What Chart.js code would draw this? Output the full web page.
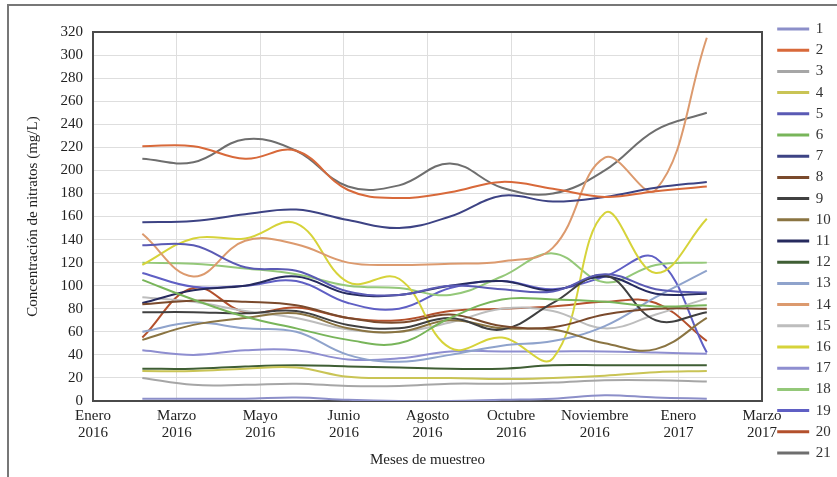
<!DOCTYPE html>
<html>
<head>
<meta charset="utf-8">
<script src="https://cdn.jsdelivr.net/npm/chart.js@4"></script>
<style>
  body { margin: 0; background: #fff; }
  canvas { display: block; }
</style>
</head>
<body>
<canvas id="myChart" width="837" height="477"></canvas>
<script>
// Etiquetas del eje X (dos lineas: mes / año)
const xTickLabels = [
  ['Enero', '2016'], ['Marzo', '2016'], ['Mayo', '2016'], ['Junio', '2016'],
  ['Agosto', '2016'], ['Octubre', '2016'], ['Noviembre', '2016'],
  ['Enero', '2017'], ['Marzo', '2017']
];

// Posicion de cada muestreo sobre el eje de meses (12 muestreos)
const sampleTimes = [0.59, 1.20, 1.82, 2.43, 3.05, 3.66, 4.27, 4.89, 5.50, 6.12, 6.73, 7.34];

// Nombres de las series (puntos de muestreo)
const seriesNames = ['1','2','3','4','5','6','7','8','9','10','11','12','13','14','15','16','17','18','19','20','21'];

// Concentracion de nitratos (mg/L) por punto
const s1  = [2, 2, 2, 3, 1, 0, 0, 1, 2, 5, 3, 2];
const s2  = [221, 221, 210, 217, 183, 176, 181, 190, 184, 177, 182, 186];
const s3  = [20, 14, 14, 15, 13, 13, 15, 15, 16, 18, 18, 17];
const s4  = [26, 26, 28, 29, 21, 20, 20, 19, 20, 22, 25, 26];
const s5  = [135, 135, 116, 113, 95, 92, 100, 97, 95, 110, 97, 94];
const s6  = [105, 88, 73, 63, 53, 50, 72, 88, 88, 86, 82, 83];
const s7  = [155, 156, 162, 166, 157, 150, 160, 178, 173, 177, 185, 190];
const s8  = [84, 87, 86, 83, 72, 68, 75, 65, 64, 75, 80, 80];
const s9  = [77, 77, 76, 78, 66, 63, 72, 62, 85, 109, 70, 77];
const s10 = [53, 66, 72, 76, 63, 60, 70, 63, 62, 50, 45, 72];
const s11 = [85, 96, 100, 108, 93, 92, 100, 104, 96, 108, 93, 93];
const s12 = [28, 28, 30, 31, 30, 29, 28, 28, 31, 31, 31, 31];
const s13 = [60, 68, 63, 60, 40, 34, 40, 48, 52, 65, 90, 113];
const s14 = [145, 108, 139, 136, 120, 118, 119, 121, 133, 211, 183, 315];
const s15 = [90, 86, 78, 72, 62, 60, 68, 80, 78, 63, 75, 89];
const s16 = [118, 141, 141, 154, 103, 106, 46, 55, 37, 163, 111, 158];
const s17 = [44, 40, 44, 44, 36, 37, 43, 43, 43, 43, 42, 41];
const s18 = [120, 119, 115, 110, 100, 98, 92, 108, 128, 103, 118, 120];
const s19 = [111, 99, 100, 104, 85, 80, 98, 104, 97, 108, 124, 42];
const s20 = [55, 98, 77, 81, 72, 70, 78, 80, 82, 86, 85, 52];
const s21 = [210, 207, 227, 217, 186, 187, 206, 185, 180, 200, 235, 250];

const allSeries = [s1, s2, s3, s4, s5, s6, s7, s8, s9, s10, s11, s12, s13, s14, s15, s16, s17, s18, s19, s20, s21];

const seriesColors = [
  '#8c8fc9', '#d8693a', '#a6a6a6', '#c9c455', '#5a5ab4', '#78b55a', '#3d4384',
  '#7a4a2c', '#404040', '#8a7442', '#262a5e', '#3f5e34', '#8fa3cc', '#dc9a6e',
  '#bdbdbd', '#d6d33a', '#8e8ed0', '#94c879', '#5f5fc4', '#b3502c', '#6e6e6e'
];

Chart.defaults.font.family = "'Liberation Serif', 'DejaVu Serif', serif";
Chart.defaults.color = '#222';

const datasets = allSeries.map((vals, i) => ({
  label: seriesNames[i],
  data: vals.map((v, j) => ({ x: sampleTimes[j], y: v })),
  borderColor: seriesColors[i],
  backgroundColor: seriesColors[i],
  borderWidth: 2,
  pointRadius: 0,
  tension: 0.4,
  fill: false
}));

// marco exterior y caja del area de trazado
const framePlugin = {
  id: 'frame',
  beforeInit(chart) {
    const legend = chart.legend;
    const fit = legend.fit;
    legend.fit = function () { fit.call(this); this.width = 75; };
  },
  afterLayout(chart) {
    const lg = chart.legend;
    lg.left = chart.chartArea.right + 10;
    lg.top += 2.5;
    lg.bottom += 2.5;
  },
  beforeDraw(chart) {
    const ctx = chart.ctx;
    ctx.save();
    ctx.strokeStyle = '#777';
    ctx.lineWidth = 2;
    ctx.beginPath();
    ctx.moveTo(8, 477);
    ctx.lineTo(8, 5);
    ctx.lineTo(837, 5);
    ctx.stroke();
    ctx.restore();
  },
  beforeDatasetsDraw(chart) {
    const {ctx, chartArea: a} = chart;
    ctx.save();
    ctx.strokeStyle = '#4a4a4a';
    ctx.lineWidth = 2;
    ctx.strokeRect(a.left, a.top, a.right - a.left, a.bottom - a.top);
    ctx.restore();
  }
};

new Chart(document.getElementById('myChart'), {
  type: 'line',
  data: { datasets: datasets },
  options: {
    responsive: false,
    animation: false,
    devicePixelRatio: 1,
    layout: { padding: 0 },
    plugins: {
      legend: {
        position: 'right',
        align: 'center',
        labels: {
          boxWidth: 30,
          boxHeight: 1,
          padding: 6.2,
          color: '#333',
          font: { size: 15 }
        }
      },
      tooltip: { enabled: false }
    },
    scales: {
      x: {
        type: 'linear',
        position: 'bottom',
        min: 0,
        max: 8,
        afterFit(s) { s.height = 76; },
        afterBuildTicks(s) { s.ticks = xTickLabels.map((_, i) => ({ value: i })); },
        ticks: {
          autoSkip: false,
          maxRotation: 0,
          padding: 7,
          color: '#222',
          font: { size: 15, lineHeight: 1.1 },
          callback: (v) => xTickLabels[v]
        },
        grid: { color: '#dedede', drawTicks: false },
        border: { display: false },
        title: {
          display: true,
          text: 'Meses de muestreo',
          color: '#222',
          font: { size: 15 },
          padding: { top: 0, bottom: 8 }
        }
      },
      xTop: {
        type: 'linear',
        position: 'top',
        min: 0,
        max: 8,
        afterFit(s) { s.height = 32; },
        ticks: { display: false },
        grid: { display: false },
        border: { display: false }
      },
      y: {
        min: 0,
        max: 320,
        afterFit(s) { s.width = 93; },
        ticks: {
          stepSize: 20,
          padding: 10,
          color: '#222',
          font: { size: 15 }
        },
        grid: { color: '#dedede', drawTicks: false },
        border: { display: false },
        title: {
          display: true,
          text: 'Concentración de nitratos (mg/L)',
          color: '#222',
          font: { size: 15 },
          padding: { top: 24, bottom: 0 }
        }
      }
    }
  },
  plugins: [framePlugin]
});
</script>
</body>
</html>
